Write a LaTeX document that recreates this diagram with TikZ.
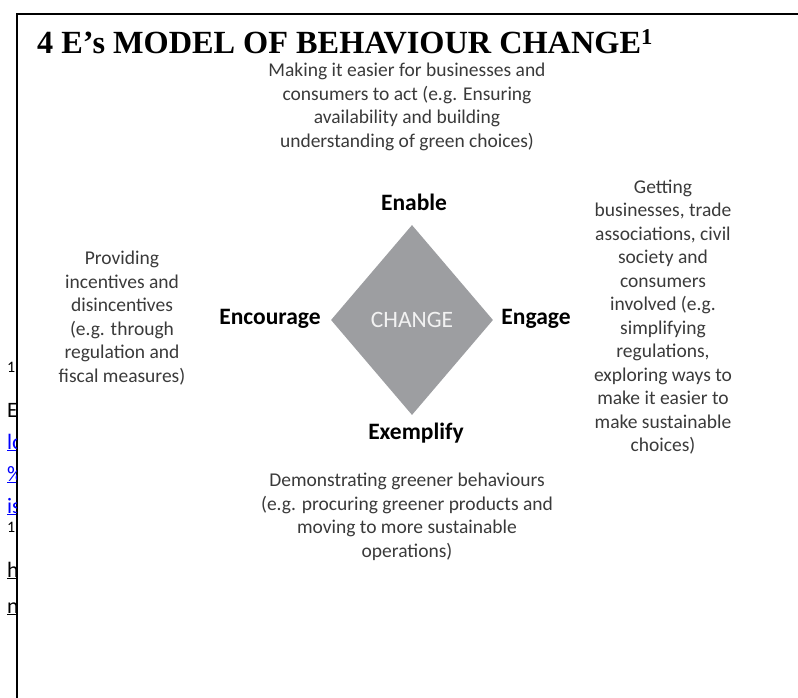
\documentclass[tikz,border=0pt]{standalone}
\usepackage{fontspec}
\setmainfont{Liberation Serif}
\newfontfamily\calfont{Carlito}
\usetikzlibrary{shapes.geometric}
\definecolor{dgray}{HTML}{9D9EA1}
\definecolor{txtgray}{HTML}{3A3A3A}
\definecolor{linkblue}{HTML}{0000FF}
\begin{document}
\begin{tikzpicture}[x=1pt,y=-1pt,
  desc/.style={font=\calfont\fontsize{19.5}{23.5}\selectfont, text=txtgray, align=center, inner sep=0pt},
  lab/.style={font=\calfont\bfseries\fontsize{23.5}{26}\selectfont, text=black, inner sep=0pt},
  frag/.style={font=\calfont\fontsize{22}{26}\selectfont, anchor=base west, inner sep=0pt},
  fragsmall/.style={font=\calfont\fontsize{16}{18}\selectfont, anchor=base west, inner sep=0pt}]
\useasboundingbox (0,0) rectangle (798,698);
% frame
\draw[line width=1.6pt] (17,698) -- (17,14) -- (798,14);
% clipped fragments left of frame
\begin{scope}
\clip (0,0) rectangle (16.2,698);
\node[fragsmall] (f1) at (7,372) {1};
\node[frag] (f2) at (7,417) {E};
\node[frag, text=linkblue] (f3) at (7,449) {\underline{lo}};
\node[frag, text=linkblue] (f4) at (7,481) {\underline{\%}};
\node[frag, text=linkblue] (f5) at (7,513) {\underline{is}};
\node[fragsmall] (f6) at (7,532) {1};
\node[frag] (f7) at (7,577) {\underline{h}};
\node[frag] (f8) at (7,613) {\underline{n}};
\end{scope}
% title
\node[anchor=base west, inner sep=0pt, font=\bfseries\fontsize{32.3}{36}\selectfont] (title) at (37,54) {4 E’s MODEL OF BEHAVIOUR CHANGE\textsuperscript{1}};
% diamond
\node[diamond, fill=dgray, minimum width=162pt, minimum height=190pt, inner sep=0pt,
  text=white!95!black, font=\calfont\fontsize{23.5}{26}\selectfont] (change) at (412,320) {CHANGE};
% labels
\node[lab] (enable) at (414,202) {Enable};
\node[lab] (encourage) at (270,319) {Encourage};
\node[lab] (engage) at (536,319) {Engage};
\node[lab] (exemplify) at (416,433) {Exemplify};
% descriptions
\node[desc] (dtop) at (407,107) {Making it easier for businesses and\\consumers to act (e.g. Ensuring\\availability and building\\understanding of green choices)};
\node[desc] (dleft) at (122,318) {Providing\\incentives and\\disincentives\\(e.g. through\\regulation and\\fiscal measures)};
\node[desc] (dright) at (663,317) {Getting\\businesses, trade\\associations, civil\\society and\\consumers\\involved (e.g.\\simplifying\\regulations,\\exploring ways to\\make it easier to\\make sustainable\\choices)};
\node[desc] (dbottom) at (407,517) {Demonstrating greener behaviours\\(e.g. procuring greener products and\\moving to more sustainable\\operations)};
\end{tikzpicture}
\end{document}
